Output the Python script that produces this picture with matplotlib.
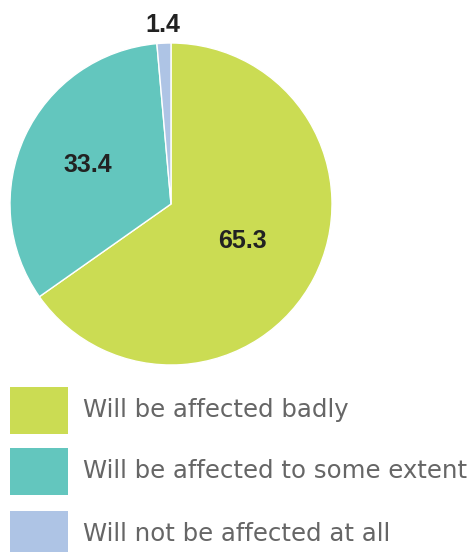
import matplotlib
matplotlib.use("Agg")
import matplotlib.pyplot as plt
from matplotlib.patches import Rectangle
import numpy as np

categories = ["Will be affected badly", "Will be affected to some extent", "Will not be affected at all"]
values = [65.3, 33.4, 1.4]
value_labels = ["65.3", "33.4", "1.4"]
colors = ["#CBDC53", "#63C6BE", "#AEC4E5"]
label_radius = [0.5, 0.57, 1.11]

W, H = 473, 552
fig = plt.figure(figsize=(W / 100, H / 100), dpi=100)
fig.patch.set_facecolor("white")

cx, cy, r = 171, 204, 161
ax = fig.add_axes([(cx - r) / W, (H - cy - r) / H, 2 * r / W, 2 * r / H])
wedges, _ = ax.pie(values, colors=colors, startangle=90, counterclock=False,
                   radius=1, wedgeprops=dict(edgecolor="white", linewidth=1))
ax.set_xlim(-1, 1)
ax.set_ylim(-1, 1)
ax.set_aspect("equal")
ax.axis("off")

total = sum(values)
start = 90.0
for v, lab, rf in zip(values, value_labels, label_radius):
    span = v / total * 360
    mid = np.deg2rad(start - span / 2)
    ax.text(rf * np.cos(mid), rf * np.sin(mid), lab, ha="center", va="center",
            fontsize=18, fontweight="bold", color="#222222", family="Liberation Sans",
            clip_on=False)
    start -= span

tops = [387, 448, 511]
for cat, col, top in zip(categories, colors, tops):
    fig.patches.append(Rectangle((10 / W, (H - top - 47) / H), 58 / W, 47 / H,
                                 transform=fig.transFigure, facecolor=col, edgecolor="none"))
    fig.text(83 / W, (H - top - 23) / H, cat, ha="left", va="center", fontsize=17.6,
             color="#666666", family="DejaVu Sans")

fig.savefig("out.png", dpi=100)
